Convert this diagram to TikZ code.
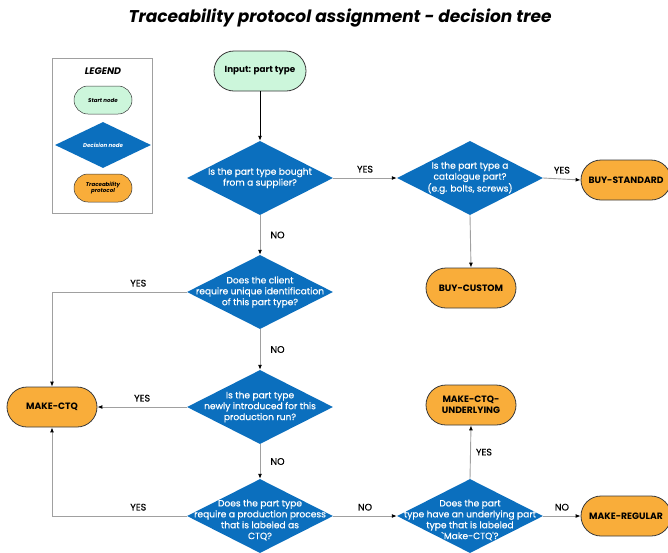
\documentclass[tikz,border=0pt]{standalone}
\usepackage{fontspec}
\setmainfont{Poppins}
\newfontfamily\medfont{Poppins}[FakeBold=0.5]
\usetikzlibrary{shapes.geometric,arrows.meta}
\definecolor{decblue}{HTML}{0B6FBE}
\definecolor{protorange}{HTML}{F9AD3A}
\definecolor{startgreen}{HTML}{CCF6DB}
\definecolor{edgegray}{HTML}{A0A0A0}
\definecolor{outline}{HTML}{3A3A3A}
\tikzset{
  decision/.style={diamond, fill=decblue, draw=none, inner sep=0pt,
    minimum width=146pt, minimum height=74pt},
  dectext/.style={text=white, align=center, font=\medfont\fontsize{9.1}{10.9}\selectfont},
  protocol/.style={rectangle, rounded corners=20pt, fill=protorange, draw=outline,
    line width=0.8pt, minimum width=90pt, minimum height=40pt, align=center,
    font=\fontsize{9.2}{11}\selectfont\bfseries},
  startnode/.style={rectangle, rounded corners=20pt, fill=startgreen, draw=outline,
    line width=0.8pt, minimum width=92pt, minimum height=40pt,
    font=\fontsize{8.8}{11}\selectfont\bfseries},
  conn/.style={draw=edgegray, line width=0.9pt, -{Latex[color=black,length=5pt,width=4pt]}},
  lab/.style={font=\medfont\fontsize{9.5}{10}\selectfont, text=black, inner sep=2pt},
}
\begin{document}
\begin{tikzpicture}[x=1pt,y=-1pt]
\useasboundingbox (0,0) rectangle (668,552);
\fill[white] (0,0) rectangle (668,552);

% title
\node (title) at (340,18) {\fontsize{17}{20}\selectfont\bfseries\itshape Traceability protocol assignment - decision tree};

% legend
\node[draw=edgegray, line width=0.6pt, minimum width=100pt, minimum height=155pt] (legend) at (102,135.5) {};
\node (legendtitle) at (103,71) {\fontsize{9.5}{11}\selectfont\bfseries\itshape LEGEND};
\node[startnode, minimum width=58pt, minimum height=28pt, rounded corners=14pt, line width=0.5pt,
  font=\fontsize{5.5}{6.5}\selectfont\bfseries\itshape] (lstart) at (103,100) {Start node};
\node[decision, minimum width=96pt, minimum height=46pt] (ldec) at (103,145) {};
\node[text=white, font=\fontsize{5.5}{6.5}\selectfont\bfseries\itshape] (ldect) at (103,145) {Decision node};
\node[protocol, minimum width=58pt, minimum height=28pt, rounded corners=14pt, line width=0.5pt,
  font=\fontsize{5.5}{6.5}\selectfont\bfseries\itshape] (lprot) at (103,188) {Traceability\\protocol};

% nodes
\node[startnode] (start) at (260,71) {Input: part type};

\node[decision] (d1) at (260,178) {};
\node[dectext] (d1t) at (260,178) {Is the part type bought\\from a supplier?};

\node[decision] (d2) at (470,178) {};
\node[dectext] (d2t) at (470,178) {Is the part type a\\catalogue part?\\(e.g. bolts, screws)};

\node[protocol] (bs) at (626,180) {BUY-STANDARD};
\node[protocol] (bc) at (471,288) {BUY-CUSTOM};

\node[decision] (d3) at (260,292) {};
\node[dectext] (d3t) at (260,292) {Does the client\\require unique identification\\of this part type?};

\node[decision] (d4) at (260,407) {};
\node[dectext] (d4t) at (260,407) {Is the part type\\newly introduced for this\\production run?};

\node[protocol] (mctq) at (52,407) {MAKE-CTQ};

\node[decision] (d5) at (260,516) {};
\node[dectext] (d5t) at (260,520) {Does the part type\\require a production process\\that is labeled as\\CTQ?};

\node[decision] (d6) at (470,516) {};
\node[dectext] (d6t) at (470,520) {Does the part\\type have an underlying part\\type that is labeled\\`Make-CTQ'?};

\node[protocol] (mcu) at (471,405) {MAKE-CTQ-\\UNDERLYING};
\node[protocol] (mr) at (626,516) {MAKE-REGULAR};

% connectors
\draw[conn, draw=black] (start) -- (d1);
\draw[conn] (d1.east) -- node[lab, above=3pt] {YES} (d2.west);
\draw[conn] (d2.east) -- node[lab, above=3pt] {YES} (bs.west);
\draw[conn] (d2.south) -- (bc.north);
\draw[conn] (d1.south) -- node[lab, right=8pt] {NO} (d3.north);
\draw[conn] (d3.west) -| node[lab, above=3pt, pos=0.18] {YES} (mctq.north);
\draw[conn] (d3.south) -- node[lab, right=8pt] {NO} (d4.north);
\draw[conn] (d4.west) -- node[lab, above=3pt, pos=0.5] {YES} (mctq.east);
\draw[conn] (d4.south) -- node[lab, right=8pt] {NO} (d5.north);
\draw[conn] (d5.west) -| node[lab, above=3pt, pos=0.18] {YES} (mctq.south);
\draw[conn] (d5.east) -- node[lab, above=3pt] {NO} (d6.west);
\draw[conn] (d6.north) -- node[lab, right=3pt] {YES} (mcu.south);
\draw[conn] (d6.east) -- node[lab, above=3pt] {NO} (mr.west);
\end{tikzpicture}
\end{document}
